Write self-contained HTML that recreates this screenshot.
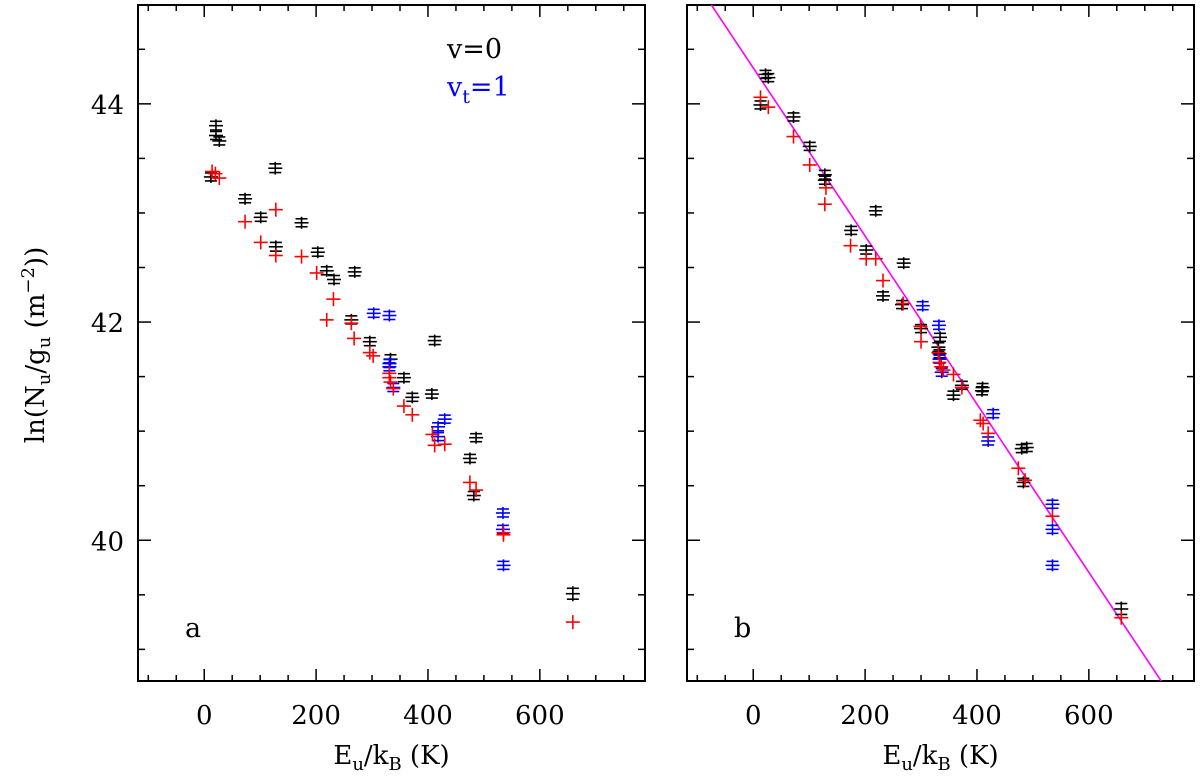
<!DOCTYPE html>
<html><head><meta charset="utf-8">
<style>
html,body{margin:0;padding:0;background:#fff;}
svg{display:block;font-family:"DejaVu Serif","Liberation Serif",serif;}
</style></head>
<body>
<svg id="chart" width="1200" height="780" viewBox="0 0 1200 780" xmlns="http://www.w3.org/2000/svg">
<text transform="translate(44,345) rotate(-90)" text-anchor="middle" font-size="26">ln(N<tspan font-size="18" dy="6">u</tspan><tspan dy="-6">/g</tspan><tspan font-size="18" dy="6">u</tspan><tspan dy="-6"> (m</tspan><tspan font-size="18" dy="-10">−2</tspan><tspan dy="10">))</tspan></text>
<text x="447" y="58" font-size="27" fill="#000">v=0</text>
<text x="447" y="96" font-size="27" fill="#0000ff">v<tspan font-size="19" dy="7">t</tspan><tspan dy="-7">=1</tspan></text>
<text x="185" y="637" font-size="27">a</text>
<text x="734" y="637" font-size="27">b</text>
</svg>
<script>
// Panel a: x = E_u/k_B (K), y = ln(N_u/g_u)
const aBlackX = [21,21,27,12,127,73,101,174,128,203,219,232,269,263,296,412,333,357,372,407,486,475,482,659];
const aBlackY = [43.80,43.71,43.66,43.33,43.41,43.13,42.96,42.91,42.69,42.64,42.47,42.39,42.46,42.02,41.82,41.83,41.66,41.49,41.31,41.34,40.94,40.75,40.41,39.51];
const aBlackErr = [0.04,0.03,0.03,0.02,0.04,0.02,0.02,0.02,0.04,0.02,0.02,0.02,0.02,0.02,0.02,0.02,0.04,0.02,0.02,0.02,0.02,0.03,0.02,0.05];
const aRedX = [14,20,27,128,73,101,128,174,201,231,219,263,268,296,302,331,331,333,338,357,372,408,412,430,475,486,535,535,659];
const aRedY = [43.38,43.36,43.32,43.03,42.92,42.73,42.61,42.60,42.45,42.21,42.02,41.99,41.85,41.72,41.69,41.53,41.49,41.45,41.39,41.23,41.15,40.97,40.87,40.88,40.53,40.46,40.07,40.05,39.25];
const aBlueX = [303,331,331,331,338,430,418,418,534,534,535];
const aBlueY = [42.08,42.06,41.62,41.59,41.40,41.11,41.04,40.95,40.25,40.10,39.77];
const aBlueErr = [0.02,0.02,0.02,0.02,0.02,0.03,0.03,0.03,0.02,0.02,0.03];
// Panel b
const bBlackX = [22,27,13,72,101,128,128,219,175,202,269,232,266,300,334,331,333,373,358,410,409,480,489,483,658];
const bBlackY = [44.27,44.24,43.99,43.88,43.61,43.35,43.30,43.02,42.84,42.66,42.54,42.24,42.16,41.94,41.86,41.77,41.71,41.42,41.33,41.40,41.37,40.84,40.85,40.53,39.37];
const bBlackErr = [0.03,0.02,0.02,0.02,0.02,0.04,0.02,0.02,0.03,0.02,0.02,0.02,0.02,0.02,0.02,0.04,0.02,0.02,0.02,0.03,0.02,0.02,0.02,0.02,0.05];
const bRedX = [13,27,72,101,130,128,174,202,219,232,268,299,300,331,333,336,340,358,373,406,411,420,474,486,535,658];
const bRedY = [44.06,43.97,43.70,43.44,43.23,43.08,42.70,42.58,42.58,42.38,42.17,41.96,41.82,41.72,41.63,41.59,41.56,41.52,41.40,41.10,41.07,40.98,40.66,40.55,40.22,39.29];
const bBlueX = [303,332,333,337,429,420,535,535,535];
const bBlueY = [42.15,41.97,41.66,41.54,41.16,40.91,40.33,40.10,39.77];
const bBlueErr = [0.02,0.02,0.02,0.02,0.03,0.03,0.02,0.02,0.03];
// Fit line (panel b): intercept and slope
const fitIntercept = [44.33];
const fitSlope = [-0.007706];
const xTicks = [0,200,400,600];
const yTicks = [40,42,44];

const NS = "http://www.w3.org/2000/svg";
const svg = document.getElementById('chart');
const X0 = -118.4, X1 = 788.0, Y0 = 38.71, Y1 = 44.906;
const PT = 5, PB = 681, PW = 507;
const panels = [{left:138, name:'a'}, {left:687, name:'b'}];
function mk(tag, attrs, parent){
  const e = document.createElementNS(NS, tag);
  for (const k in attrs) e.setAttribute(k, attrs[k]);
  (parent||svg).appendChild(e);
  return e;
}
function xs(p, v){ return p.left + (v - X0) / (X1 - X0) * PW; }
function ys(v){ return PB - (v - Y0) / (Y1 - Y0) * (PB - PT); }

panels.forEach(p => {
  const g = mk('g', {});
  
  
  const fr = mk('rect', {x:p.left, y:PT, width:PW, height:PB-PT, fill:'none', stroke:'#000', 'stroke-width':2}, g);
  
  
  for (let v = -100; v <= 780; v += 50) {
    const x = xs(p, v), major = (v % 200 === 0), L = major ? 12 : 6;
    mk('line', {x1:x, x2:x, y1:PB, y2:PB-L, stroke:'#000', 'stroke-width':1.5}, g);
    mk('line', {x1:x, x2:x, y1:PT, y2:PT+L, stroke:'#000', 'stroke-width':1.5}, g);
  }
  for (let v = 39; v <= 44.9; v += 0.5) {
    const y = ys(v), major = Math.abs(v % 2) < 1e-6, L = major ? 13 : 7;
    mk('line', {x1:p.left, x2:p.left+L, y1:y, y2:y, stroke:'#000', 'stroke-width':1.5}, g);
    mk('line', {x1:p.left+PW, x2:p.left+PW-L, y1:y, y2:y, stroke:'#000', 'stroke-width':1.5}, g);
  }
  xTicks.forEach(v => {
    const t = mk('text', {x:xs(p, v), y:724, 'text-anchor':'middle', 'font-size':26}, g);
    t.textContent = v;
    
    
  });
  const xt = mk('text', {x:p.left + PW/2, y:764, 'text-anchor':'middle', 'font-size':26}, g);
  xt.innerHTML = 'E<tspan font-size="18" dy="6">u</tspan><tspan dy="-6">/k</tspan><tspan font-size="18" dy="6">B</tspan><tspan dy="-6"> (K)</tspan>';
  
  
  if (p.name === 'a') {
    yTicks.forEach(v => {
      const t = mk('text', {x:124, y:ys(v)+10, 'text-anchor':'end', 'font-size':26}, g);
      t.textContent = v;
      
      
    });
  }
});

function errPts(p, X, Y, E, color, nm){
  X.forEach((xv, i) => {
    const x = xs(p, xv), y = ys(Y[i]);
    const e = Math.max(E[i] * (PB-PT)/(Y1-Y0), 4);
    const g = mk('g', {stroke:color, 'stroke-width':1.6});
    
    
    mk('line', {x1:x-7, x2:x+7, y1:y, y2:y}, g);
    mk('line', {x1:x, x2:x, y1:y-e-2, y2:y+e+2}, g);
    mk('line', {x1:x-6, x2:x+6, y1:y-e, y2:y-e}, g);
    mk('line', {x1:x-6, x2:x+6, y1:y+e, y2:y+e}, g);
  });
}
function plusPts(p, X, Y, color, nm){
  X.forEach((xv, i) => {
    const x = xs(p, xv), y = ys(Y[i]);
    const g = mk('g', {stroke:color, 'stroke-width':1.6});
    
    
    mk('line', {x1:x-7, x2:x+7, y1:y, y2:y}, g);
    mk('line', {x1:x, x2:x, y1:y-7, y2:y+7}, g);
  });
}
(function(){
  const p = panels[1];
  const xa = X0, xb = X1;
  const clip = mk('clipPath', {id:'clipb'});
  mk('rect', {x:p.left, y:PT, width:PW, height:PB-PT}, clip);
  const l = mk('line', {x1:xs(p, xa), y1:ys(fitIntercept[0] + fitSlope[0]*xa), x2:xs(p, xb), y2:ys(fitIntercept[0] + fitSlope[0]*xb), stroke:'#ff00ff', 'stroke-width':1.6, 'clip-path':'url(#clipb)'});
  
  
})();
errPts(panels[0], aBlackX, aBlackY, aBlackErr, '#000', 'point-v0');
errPts(panels[0], aBlueX, aBlueY, aBlueErr, '#0000ff', 'point-vt1');
plusPts(panels[0], aRedX, aRedY, '#ff0000', 'point-model');
errPts(panels[1], bBlackX, bBlackY, bBlackErr, '#000', 'point-v0');
errPts(panels[1], bBlueX, bBlueY, bBlueErr, '#0000ff', 'point-vt1');
plusPts(panels[1], bRedX, bRedY, '#ff0000', 'point-model');
</script>
</body></html>
